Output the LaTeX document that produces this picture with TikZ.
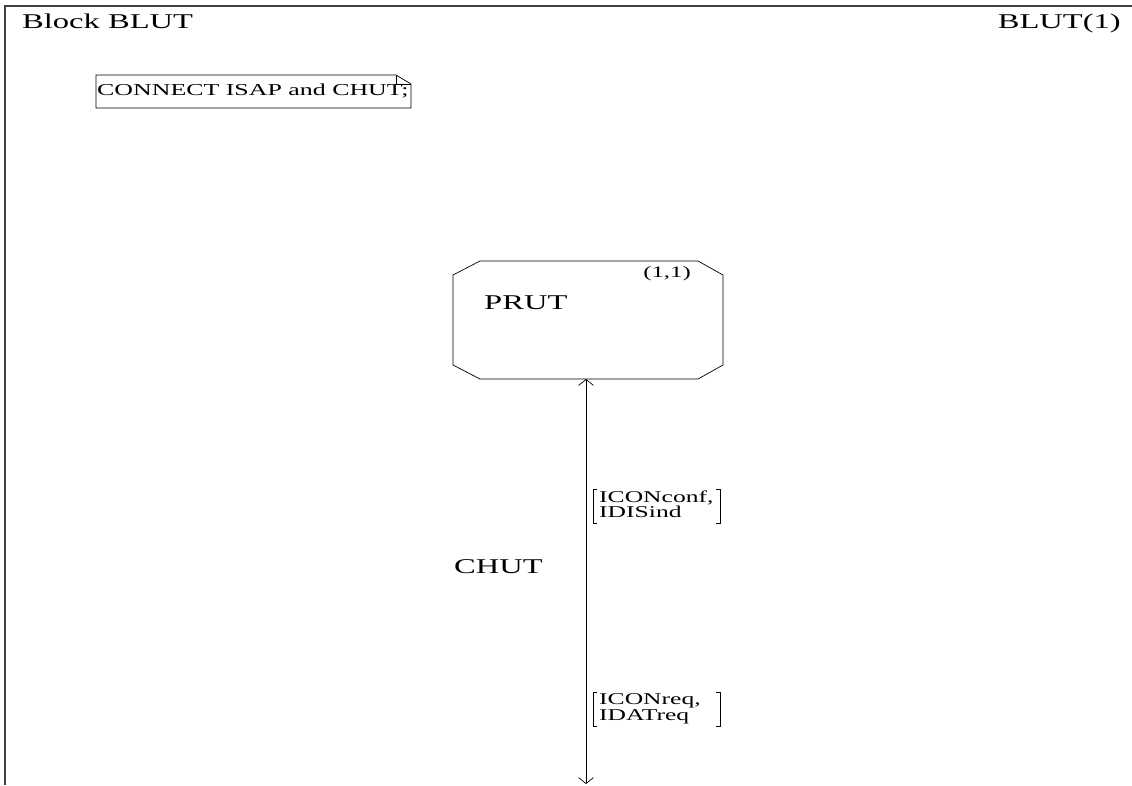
\documentclass[tikz,border=0pt]{standalone}
\usepackage{fontspec}
\usetikzlibrary{arrows.meta}
\setmainfont[FakeStretch=1.55]{Liberation Serif}
\begin{document}
\begin{tikzpicture}[x=1pt,y=-1pt,
  frameline/.style={draw=black!75,line width=1.2pt},
  thin/.style={draw=black,line width=0.7pt},
  bigtext/.style={font=\fontsize{21}{23}\selectfont,inner sep=0pt},
  sigtext/.style={font=\fontsize{16.5}{13.5}\selectfont,align=left,inner sep=0pt,anchor=base west},
  chanarrow/.style={thin,{Straight Barb[length=6pt,width=15pt]}-{Straight Barb[length=6pt,width=15pt]}}
]
\useasboundingbox (0,0) rectangle (1132,785);
% diagram frame (top and left edges)
\draw[frameline] (1132,6) -- (5,6) -- (5,785);
\node[bigtext,anchor=base west] (title) at (22,28) {Block BLUT};
\node[bigtext,anchor=base east] (page) at (1121,28) {BLUT(1)};

% text symbol with folded corner
\draw[thin] (96,75) -- (396,75) -- (411,84) -- (411,108) -- (96,108) -- cycle;
\draw[thin] (396,75) -- (396,84) -- (411,84);
\node[font=\fontsize{16.7}{18}\selectfont,inner sep=0pt,anchor=base west] (txt) at (97,95) {CONNECT ISAP and CHUT;};

% process PRUT
\draw[thin] (480,261) -- (698,261) -- (723,275) -- (723,365) -- (698,379) -- (480,379) -- (453,365) -- (453,275) -- cycle;
\coordinate (prutS) at (586,379);
\node[font=\fontsize{16}{16}\selectfont,inner sep=0pt,anchor=base] (inst) at (667,277) {(1,1)};
\node[bigtext,anchor=base west] (prut) at (484,309) {PRUT};

% channel CHUT
\coordinate (chutS) at (586,784);
\draw[chanarrow] (prutS) -- (chutS);
\node[bigtext,anchor=base west] (chut) at (454,573) {CHUT};

% signal lists (anchor is the baseline of the last line)
\node[sigtext] (sigA) at (599,517) {ICONconf,\\IDISind};
\draw[thin] (597,489) -- (593,489) -- (593,523) -- (597,523);
\draw[thin] (716,489) -- (720,489) -- (720,523) -- (716,523);
\node[sigtext] (sigB) at (599,720) {ICONreq,\\IDATreq};
\draw[thin] (597,692) -- (593,692) -- (593,726) -- (597,726);
\draw[thin] (716,692) -- (720,692) -- (720,726) -- (716,726);
\end{tikzpicture}
\end{document}
